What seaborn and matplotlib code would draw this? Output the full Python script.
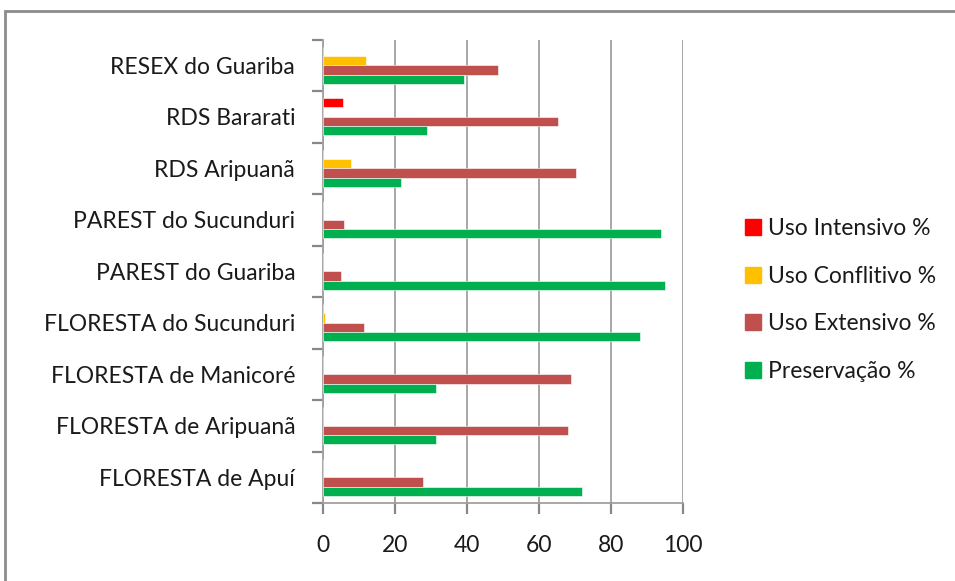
import pandas as pd
import matplotlib
matplotlib.use("Agg")
import matplotlib.pyplot as plt
import seaborn as sns
from matplotlib.lines import Line2D
from matplotlib.patches import Rectangle

# ── data ───────────────────────────────────────────────────────────────────
categories = [
    "RESEX do Guariba",
    "RDS Bararati",
    "RDS Aripuanã",
    "PAREST do Sucunduri",
    "PAREST do Guariba",
    "FLORESTA do Sucunduri",
    "FLORESTA de Manicoré",
    "FLORESTA de Aripuanã",
    "FLORESTA de Apuí",
]
series = ["Uso Intensivo %", "Uso Conflitivo %", "Uso Extensivo %", "Preservação %"]
uso_intensivo = [0, 5.6, 0, 0, 0, 0, 0, 0, 0]
uso_conflitivo = [11.9, 0, 7.7, 0, 0, 0.5, 0, 0, 0]
uso_extensivo = [48.7, 65.2, 70.2, 5.8, 4.9, 11.3, 68.8, 68.1, 27.8]
preservacao = [39.1, 28.8, 21.6, 93.8, 94.9, 88.0, 31.3, 31.3, 72.0]
x_ticks = [0, 20, 40, 60, 80, 100]

colors = ["#FF0000", "#FFC000", "#C0504D", "#00B050"]

# long-form table for seaborn
rows = []
for name, vals in zip(series, [uso_intensivo, uso_conflitivo, uso_extensivo, preservacao]):
    for cat, v in zip(categories, vals):
        rows.append({"Unidade": cat, "Serie": name, "Valor": v})
df = pd.DataFrame(rows)

sns.set_style("white")
grid_c = "#A0A0A0"
tick_c = "#888888"
plt.rcParams["font.family"] = ["Lato", "DejaVu Sans"]
plt.rcParams.update({
    "xtick.bottom": True, "ytick.left": True,
    "xtick.direction": "out", "ytick.direction": "out",
})

W, H = 955, 581
fig = plt.figure(figsize=(W / 100, H / 100), dpi=100)
ax = fig.add_axes([323 / W, (H - 503) / H, 360 / W, (503 - 39.5) / H])

sns.barplot(data=df, x="Valor", y="Unidade", hue="Serie", order=categories,
            hue_order=series, palette=colors, saturation=1, orient="h", width=0.72,
            gap=0, edgecolor="white", linewidth=0.4, ax=ax, legend=False, zorder=3)

ax.set_xlim(0, 100)
ax.set_ylim(len(categories) - 0.5, -0.5)
ax.set_xticks(x_ticks)
ax.set_xlabel("")
ax.set_ylabel("")

ax.xaxis.grid(True, color=grid_c, linewidth=1.3, zorder=0)
ax.yaxis.grid(False)
for s in ["top", "right"]:
    ax.spines[s].set_visible(False)
for s in ["left", "bottom"]:
    ax.spines[s].set_color(grid_c)
    ax.spines[s].set_linewidth(1.3)

# Excel-like tick marks: y ticks between categories
ax.set_yticks([i - 0.5 for i in range(len(categories) + 1)], minor=True)
ax.tick_params(axis="y", which="major", length=0, pad=20, labelsize=16.5, labelcolor="#1a1a1a")
ax.tick_params(axis="y", which="minor", length=8, width=1.6, color=tick_c, left=True)
ax.tick_params(axis="x", which="major", length=8, width=1.6, color=tick_c,
               bottom=True, pad=15, labelsize=16.5, labelcolor="#1a1a1a")

handles = [Line2D([0], [0], marker="s", linestyle="", markersize=11,
                  markerfacecolor=c, markeredgecolor=c) for c in colors]
fig.legend(handles, series, loc="center left", bbox_to_anchor=(724 / W, 1 - 300 / H),
           frameon=False, fontsize=16.5, handletextpad=0.25, labelspacing=1.17,
           handlelength=0.75, labelcolor="#1a1a1a")

# outer chart border (top and left visible, rest cropped)
fig.patches.append(Rectangle((5 / W, -0.1), 1.2, 1 - 11 / H + 0.1, transform=fig.transFigure,
                             fill=False, edgecolor="#8C8C8C", linewidth=2))

fig.savefig("out.png", dpi=100)
